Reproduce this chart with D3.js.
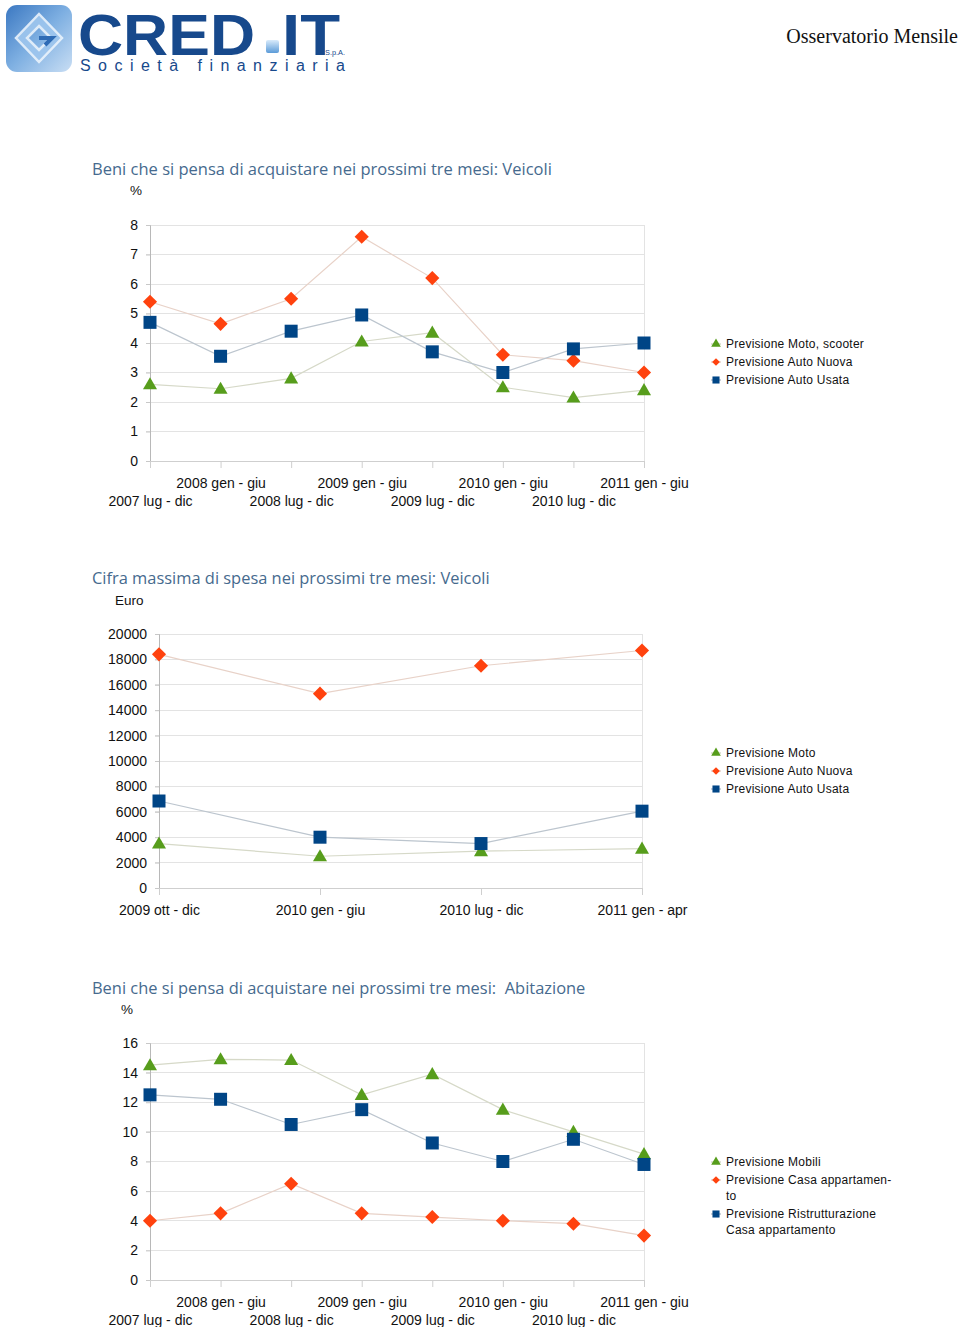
<!DOCTYPE html>
<html><head><meta charset="utf-8">
<script src="https://cdn.jsdelivr.net/npm/d3@7"></script>
<style>body{margin:0;background:#fff}svg{display:block}</style>
</head><body>
<script>
// ---------- DATA ----------
const periods = ["2007 lug - dic","2008 gen - giu","2008 lug - dic","2009 gen - giu","2009 lug - dic","2010 gen - giu","2010 lug - dic","2011 gen - giu"];
const motoScooter = [2.6,2.45,2.8,4.05,4.35,2.5,2.15,2.4];
const autoNuovaPct = [5.4,4.65,5.5,7.6,6.2,3.6,3.4,3.0];
const autoUsataPct = [4.7,3.55,4.4,4.95,3.7,3.0,3.8,4.0];
const ticksPct1 = [0,1,2,3,4,5,6,7,8];

const periods2 = ["2009 ott - dic","2010 gen - giu","2010 lug - dic","2011 gen - apr"];
const motoEuro = [3500,2500,2900,3100];
const autoNuovaEuro = [18400,15300,17500,18700];
const autoUsataEuro = [6850,4000,3500,6050];
const ticksEuro = [0,2000,4000,6000,8000,10000,12000,14000,16000,18000,20000];

const mobili = [14.5,14.9,14.85,12.5,13.9,11.5,10.0,8.5];
const casaAppartamento = [4.0,4.5,6.5,4.5,4.25,4.0,3.8,3.0];
const ristrutturazione = [12.5,12.2,10.5,11.5,9.25,8.0,9.5,7.8];
const ticksPct3 = [0,2,4,6,8,10,12,14,16];

const titles = ["Beni che si pensa di acquistare nei prossimi tre mesi: Veicoli",
  "Cifra massima di spesa nei prossimi tre mesi: Veicoli",
  "Beni che si pensa di acquistare nei prossimi tre mesi:  Abitazione"];

// ---------- STYLE ----------
const W = 960, H = 1327;
const C_GREEN = "#579d1c", C_ORANGE = "#ff420e", C_BLUE = "#004586";
const L_GREEN = "#d6d9c8", L_ORANGE = "#e8d2c8", L_BLUE = "#bcc5ce";
const FONT = "'Liberation Sans', Arial, sans-serif";

const svg = d3.select("body").append("svg").attr("width", W).attr("height", H)
  .attr("font-family", FONT);

function fitText(sel, w) {
  const len = sel.node().getComputedTextLength();
  const fs = parseFloat(sel.attr("font-size"));
  sel.attr("font-size", fs * w / len);
}

// ---------- HEADER / LOGO ----------
const defs = svg.append("defs");
const g1 = defs.append("linearGradient").attr("id","icoGrad").attr("x1","0").attr("y1","0").attr("x2","1").attr("y2","1");
g1.append("stop").attr("offset","0").attr("stop-color","#3b78c2");
g1.append("stop").attr("offset","0.5").attr("stop-color","#7fb0e2");
g1.append("stop").attr("offset","1").attr("stop-color","#c9def4");
const g2 = defs.append("linearGradient").attr("id","dotGrad").attr("x1","0").attr("y1","0").attr("x2","0").attr("y2","1");
g2.append("stop").attr("offset","0").attr("stop-color","#d9ebfb");
g2.append("stop").attr("offset","1").attr("stop-color","#5b9bd8");

const logo = svg.append("g");
logo.append("rect").attr("x",6).attr("y",5).attr("width",66).attr("height",67).attr("rx",11)
  .attr("fill","url(#icoGrad)");
logo.append("path").attr("d","M39 14 L62 38 L39 62 L16 38 Z M39 26 L51 38 L39 50 L27 38 Z")
  .attr("fill","#9ec6ee").attr("fill-rule","evenodd").attr("stroke","#eaf3fc").attr("stroke-width",2.5).attr("opacity",0.9);
logo.append("path").attr("d","M39 38 L52 38 L45 45").attr("fill","none").attr("stroke","#2e6bb5").attr("stroke-width",4);

logo.append("text").attr("x",78).attr("y",55).attr("font-size",58).attr("font-weight","bold")
  .attr("fill","#17498c").attr("textLength",177).attr("lengthAdjust","spacingAndGlyphs").text("CRED");
logo.append("rect").attr("x",266).attr("y",40).attr("width",13).attr("height",13).attr("rx",2).attr("fill","url(#dotGrad)");
logo.append("text").attr("x",282).attr("y",55).attr("font-size",58).attr("font-weight","bold")
  .attr("fill","#17498c").attr("textLength",58).attr("lengthAdjust","spacingAndGlyphs").text("IT");
logo.append("text").attr("x",325).attr("y",55).attr("font-size",7.5).attr("fill","#17498c")
  .attr("textLength",20).attr("lengthAdjust","spacingAndGlyphs").text("S.p.A.");
logo.append("text").attr("x",80).attr("y",71).attr("font-size",16).attr("fill","#17498c")
  .attr("textLength",265).attr("lengthAdjust","spacing").text("Società finanziaria");

svg.append("text").attr("x",958).attr("y",43).attr("text-anchor","end")
  .attr("font-family","'Liberation Serif', 'Times New Roman', serif").attr("font-size",20).attr("fill","#111")
  .text("Osservatorio Mensile");

// ---------- CHART FUNCTION ----------
const symTri = d3.symbol().type(d3.symbolTriangle).size(85);
const symSq = d3.symbol().type(d3.symbolSquare).size(169);
const symDia = d3.symbol().type(d3.symbolSquare).size(100);

function drawChart(cfg) {
  const g = svg.append("g");
  // title
  const t = g.append("text").attr("x",92).attr("y",cfg.titleY).attr("font-family","'Open Sans', 'Noto Sans', sans-serif")
    .attr("font-size",16).attr("fill","#466a8e").style("white-space","pre").text(cfg.title);
  fitText(t, cfg.titleW);
  // unit
  g.append("text").attr("x",cfg.unitX).attr("y",cfg.unitY).attr("font-size",13.5).attr("fill","#111").text(cfg.unit);

  const x = d3.scalePoint().domain(cfg.cats).range([cfg.x0, cfg.x1]).padding(0);
  const y = d3.scaleLinear().domain(cfg.domain).range([cfg.yBot, cfg.yTop]);

  // gridlines
  g.append("g").selectAll("line").data(cfg.ticks.filter(d => d !== 0)).join("line")
    .attr("x1", cfg.x0 - 4).attr("x2", cfg.x1).attr("y1", d => y(d)).attr("y2", d => y(d))
    .attr("stroke","#e3e3e3").attr("stroke-width",1).attr("shape-rendering","crispEdges");
  // right border
  g.append("line").attr("x1",cfg.x1).attr("x2",cfg.x1).attr("y1",cfg.yTop).attr("y2",cfg.yBot)
    .attr("stroke","#e3e3e3").attr("shape-rendering","crispEdges");

  // y axis
  const ya = d3.axisLeft(y).tickValues(cfg.ticks).tickSize(4).tickPadding(8).tickFormat(d3.format("d"));
  const yg = g.append("g").attr("transform",`translate(${cfg.x0},0)`).call(ya);
  yg.select(".domain").attr("stroke","#b8b8b8");
  yg.selectAll(".tick line").attr("stroke","#c8c8c8");
  yg.selectAll(".tick text").attr("font-size",14).attr("font-family",FONT).attr("fill","#111");

  // x axis
  const xa = d3.axisBottom(x).tickSize(7).tickSizeOuter(0).tickPadding(0);
  const xg = g.append("g").attr("transform",`translate(0,${cfg.yBot})`).call(xa);
  xg.select(".domain").attr("stroke","#cfcfcf");
  xg.selectAll(".tick line").attr("stroke","#cfcfcf");
  xg.selectAll(".tick text").attr("font-size",14).attr("font-family",FONT).attr("fill","#111")
    .attr("dy",null)
    .attr("y", (d,i) => cfg.twoRows ? (i % 2 === 1 ? 27 : 45) : 27);

  // series
  const series = cfg.series;
  series.forEach(s => {
    g.append("path").datum(s.values)
      .attr("d", d3.line().x((d,i) => x(cfg.cats[i])).y(d => y(d)))
      .attr("fill","none").attr("stroke",s.line).attr("stroke-width",1.2);
  });
  series.forEach(s => {
    g.append("g").selectAll("path").data(s.values).join("path")
      .attr("d", s.sym === "tri" ? symTri() : s.sym === "sq" ? symSq() : symDia())
      .attr("transform",(d,i) => `translate(${x(cfg.cats[i])},${y(d)})` + (s.sym === "dia" ? " rotate(45)" : (s.sym === "tri" ? " translate(0,1)" : "")))
      .attr("fill",s.color);
  });

  // legend
  const lg = g.append("g");
  cfg.legend.forEach((it, i) => {
    const s = series[i];
    const yy = it.y;
    lg.append("line").attr("x1",711).attr("x2",721).attr("y1",yy).attr("y2",yy).attr("stroke",s.line).attr("stroke-width",1.5);
    const sz = s.sym === "tri" ? 40 : s.sym === "sq" ? 50 : 30;
    const type = s.sym === "tri" ? d3.symbolTriangle : d3.symbolSquare;
    lg.append("path").attr("d", d3.symbol().type(type).size(sz)())
      .attr("transform",`translate(716,${yy})` + (s.sym === "dia" ? " rotate(45)" : ""))
      .attr("fill",s.color);
    it.lines.forEach((ln, j) => {
      lg.append("text").attr("x",726).attr("y",yy + 4 + j*16).attr("font-size",12)
        .attr("letter-spacing",0.25).attr("fill","#111").text(ln);
    });
  });
}

drawChart({
  title: titles[0], titleY: 175, titleW: 460, unit: "%", unitX: 130, unitY: 195,
  cats: periods, x0: 150, x1: 644, yTop: 225, yBot: 461, domain: [0,8], ticks: ticksPct1, twoRows: true,
  series: [
    {values: motoScooter, color: C_GREEN, line: L_GREEN, sym: "tri"},
    {values: autoNuovaPct, color: C_ORANGE, line: L_ORANGE, sym: "dia"},
    {values: autoUsataPct, color: C_BLUE, line: L_BLUE, sym: "sq"}],
  legend: [{y:344, lines:["Previsione Moto, scooter"]},{y:362, lines:["Previsione Auto Nuova"]},{y:380, lines:["Previsione Auto Usata"]}]
});

drawChart({
  title: titles[1], titleY: 584, titleW: 398, unit: "Euro", unitX: 115, unitY: 605,
  cats: periods2, x0: 159, x1: 642, yTop: 634, yBot: 888, domain: [0,20000], ticks: ticksEuro, twoRows: false,
  series: [
    {values: motoEuro, color: C_GREEN, line: L_GREEN, sym: "tri"},
    {values: autoNuovaEuro, color: C_ORANGE, line: L_ORANGE, sym: "dia"},
    {values: autoUsataEuro, color: C_BLUE, line: L_BLUE, sym: "sq"}],
  legend: [{y:753, lines:["Previsione Moto"]},{y:771, lines:["Previsione Auto Nuova"]},{y:789, lines:["Previsione Auto Usata"]}]
});

drawChart({
  title: titles[2], titleY: 994, titleW: 494, unit: "%", unitX: 121, unitY: 1014,
  cats: periods, x0: 150, x1: 644, yTop: 1043, yBot: 1280, domain: [0,16], ticks: ticksPct3, twoRows: true,
  series: [
    {values: mobili, color: C_GREEN, line: L_GREEN, sym: "tri"},
    {values: casaAppartamento, color: C_ORANGE, line: L_ORANGE, sym: "dia"},
    {values: ristrutturazione, color: C_BLUE, line: L_BLUE, sym: "sq"}],
  legend: [{y:1162, lines:["Previsione Mobili"]},{y:1180, lines:["Previsione Casa appartamen-","to"]},{y:1214, lines:["Previsione Ristrutturazione","Casa appartamento"]}]
});
</script>
</body></html>
